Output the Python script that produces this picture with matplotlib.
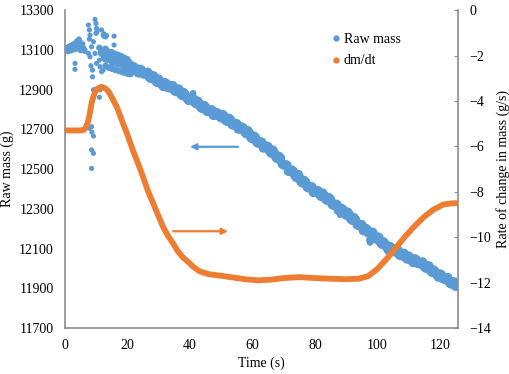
import matplotlib
matplotlib.use('Agg')
import matplotlib.pyplot as plt
from matplotlib.lines import Line2D

plt.rcParams['font.family'] = ['Liberation Serif', 'DejaVu Serif']
plt.rcParams['font.size'] = 10

# ---- Raw mass: early scattered readings (t in s, mass in g)
early_t = [0.0, 0.3, 0.6, 0.9, 1.2, 1.5, 1.8, 2.1, 2.4, 2.7, 3.0, 3.3, 3.6, 3.9, 4.2, 4.5,
           4.8, 5.1, 5.4, 5.7, 6.0, 6.3, 1.0, 2.0, 3.0, 4.0, 5.0, 4.5, 3.2, 3.2,
           7.5, 7.8, 8.0, 7.8, 9.6, 9.9, 10.1, 9.9, 12.2, 12.5, 11.7, 15.7, 15.7, 9.1,
           8.5, 9.6, 7.5, 8.0, 6.4, 10.1, 11.0, 11.2, 11.7, 12.2, 8.8, 9.1, 9.6, 11.0,
           11.2, 8.5, 9.1, 8.5, 9.1, 8.5, 10.2, 12.5, 13.0, 13.3, 8.3, 8.8, 7.7, 8.6]
early_m = [13100, 13112, 13095, 13108, 13118, 13100, 13122, 13105, 13128, 13112, 13132,
           13115, 13142, 13120, 13150, 13135, 13145, 13122, 13100, 13130, 13110, 13092,
           13090, 13095, 13100, 13105, 13095, 13155, 13032, 13002,
           13225, 13200, 13174, 13154, 13253, 13233, 13208, 13183, 13174, 13168, 13200,
           13169, 13124, 13141, 13115, 13082, 13082, 13065, 13099, 13032, 13048, 13015,
           12990, 12998, 12964, 12898, 12901, 12861, 12898, 12713, 12666, 12596, 12579,
           12503, 13190, 13180, 13165, 13172, 13020, 12998, 12706, 12686]

# ---- Raw mass: main decreasing band, whole seconds
band_t = list(range(12, 126))
band_m = [13085, 13060, 13075, 13050, 13062, 13035, 13045, 13020, 13028, 13010,
          13015, 12992, 13002, 12980, 12985, 12962, 12970, 12945, 12952, 12925,
          12935, 12910, 12920, 12895, 12902, 12878, 12885, 12858, 12848, 12855,
          12828, 12830, 12805, 12812, 12790, 12798, 12772, 12780, 12758, 12765,
          12740, 12748, 12722, 12728, 12702, 12708, 12678, 12682, 12652, 12658,
          12630, 12635, 12608, 12612, 12580, 12582, 12552, 12555, 12520, 12520,
          12488, 12490, 12458, 12460, 12430, 12435, 12405, 12410, 12383, 12390,
          12362, 12368, 12342, 12348, 12318, 12322, 12292, 12296, 12268, 12272,
          12242, 12245, 12216, 12220, 12190, 12180, 12182, 12155, 12158, 12130,
          12133, 12105, 12110, 12085, 12092, 12068, 12075, 12055, 12062, 12038,
          12048, 12025, 12030, 12008, 12012, 11988, 11992, 11968, 11972, 11948,
          11952, 11928, 11932, 11910]

# ---- Raw mass: main band, half seconds
band2_t = [k + 0.5 for k in range(12, 125)]
band2_m = [13088, 13058, 13065, 13039, 13054, 13034, 13045, 13015, 13029, 13000,
           13008, 12984, 12998, 12978, 12987, 12956, 12967, 12936, 12942, 12915,
           12929, 12909, 12920, 12890, 12902, 12870, 12874, 12846, 12857, 12835,
           12842, 12809, 12820, 12790, 12796, 12770, 12784, 12764, 12774, 12744,
           12755, 12723, 12728, 12701, 12712, 12687, 12693, 12658, 12666, 12633,
           12636, 12606, 12616, 12590, 12595, 12559, 12564, 12526, 12523, 12489,
           12496, 12469, 12473, 12436, 12443, 12409, 12412, 12382, 12393, 12371,
           12379, 12347, 12356, 12321, 12323, 12292, 12302, 12277, 12283, 12248,
           12255, 12220, 12221, 12190, 12200, 12176, 12182, 12148, 12156, 12121,
           12123, 12092, 12104, 12084, 12094, 12064, 12076, 12047, 12054, 12029,
           12043, 12023, 12032, 12001, 12012, 11980, 11984, 11956, 11968, 11946,
           11954, 11922, 11932]

# extra readings thickening / roughening the band
extra_t = [11, 12, 13, 14, 15, 16, 17, 18, 19, 20,
           13, 14, 15, 16, 17, 18, 19, 20, 21,
           41, 53.4, 97.4, 97.6, 111.2, 75, 88]
extra_m = [13110, 13100, 13105, 13090, 13088, 13080, 13075, 13068, 13060, 13052,
           13020, 13010, 13005, 13000, 12995, 12990, 12985, 12980, 12978,
           12882, 12736, 12143, 12130, 12027, 12478, 12270]

# ---- dm/dt (g/s)
dm_t = [0, 2, 4, 5, 6, 6.5, 7, 7.5, 8, 8.5, 9, 9.6, 10.5, 11.7, 13, 14, 15, 16.6, 18.6,
        20, 21.8, 23.5, 25, 26.5, 28.2, 30, 31.4, 33, 34.6, 36, 37.8, 39.5, 41, 43, 46,
        50, 54, 58, 62, 66, 70, 75, 80, 85, 90, 94, 97, 100, 103, 106, 109, 112, 115,
        118, 121, 123, 125.5]
dm_v = [-5.3, -5.3, -5.3, -5.3, -5.28, -5.2, -5.05, -4.85, -4.5, -4.1, -3.85, -3.6,
        -3.45, -3.38, -3.45, -3.6, -3.85, -4.27, -5.0, -5.5, -6.2, -6.8, -7.35, -7.95,
        -8.5, -9.1, -9.55, -9.95, -10.27, -10.6, -10.9, -11.1, -11.3, -11.5, -11.63,
        -11.7, -11.78, -11.86, -11.9, -11.87, -11.8, -11.76, -11.8, -11.83, -11.85,
        -11.83, -11.72, -11.4, -10.95, -10.45, -9.95, -9.5, -9.1, -8.78, -8.57, -8.52,
        -8.5]

x_ticks = [0, 20, 40, 60, 80, 100, 120]
left_ticks = [11700, 11900, 12100, 12300, 12500, 12700, 12900, 13100, 13300]
right_ticks = [-14, -12, -10, -8, -6, -4, -2, 0]

BLUE = '#5B9BD5'
ORANGE = '#ED7D31'
GREY = '#8C8C8C'

fig = plt.figure(figsize=(5.1, 3.74), dpi=100)
ax = fig.add_axes([0.1275, 0.123, 0.898 - 0.1275, 0.973 - 0.123])
ax2 = ax.twinx()

ax.scatter(early_t, early_m, s=14, color=BLUE, edgecolors='none', zorder=3)
ax.scatter(extra_t, extra_m, s=22, color=BLUE, edgecolors='none', zorder=3)
ax.scatter(band_t, band_m, s=46, color=BLUE, edgecolors='none', zorder=3)
ax.scatter(band2_t, band2_m, s=46, color=BLUE, edgecolors='none', zorder=3)

ax2.plot(dm_t, dm_v, color=ORANGE, lw=4.2, solid_capstyle='round', zorder=3)

ax.set_xlim(0, 125.8)
ax.set_ylim(11700, 13300)
ax2.set_ylim(-14, 0)
ax.set_xticks(x_ticks)
ax.set_yticks(left_ticks)
ax2.set_yticks(right_ticks)

for a in (ax, ax2):
    a.spines['top'].set_visible(False)
    for s in ('left', 'right', 'bottom'):
        a.spines[s].set_color(GREY)
        a.spines[s].set_linewidth(1.2)
ax.spines['right'].set_visible(False)
ax2.spines['left'].set_visible(False)
ax2.spines['bottom'].set_visible(False)

ax.tick_params(axis='both', length=0, pad=8, labelsize=10)
ax2.tick_params(axis='y', direction='in', length=3, color=GREY, pad=8, labelsize=10)

ax.set_xlabel('Time (s)', fontsize=10, labelpad=3)
ax.set_ylabel('Raw mass (g)', fontsize=10, labelpad=4)
ax2.set_ylabel('Rate of change in mass (g/s)', fontsize=10, labelpad=4)

# direction arrows
ax.annotate('', xy=(40, 12612), xytext=(55.4, 12612),
            arrowprops=dict(arrowstyle='-|>', color=BLUE, lw=1.6, mutation_scale=9,
                            shrinkA=0, shrinkB=0))
ax2.annotate('', xy=(52.2, -9.74), xytext=(34.6, -9.74),
             arrowprops=dict(arrowstyle='-|>', color=ORANGE, lw=1.6, mutation_scale=9,
                             shrinkA=0, shrinkB=0))

handles = [Line2D([], [], marker='o', ls='', color=BLUE, markersize=3.5),
           Line2D([], [], marker='o', ls='', color=ORANGE, markersize=3.5)]
fig.legend(handles, ['Raw mass', 'dm/dt'], loc='upper left',
           bbox_to_anchor=(0.637, 0.930), frameon=False, handlelength=0.6,
           handletextpad=0.25, borderpad=0, labelspacing=0.6, fontsize=10)

fig.savefig('out.png', dpi=100)
